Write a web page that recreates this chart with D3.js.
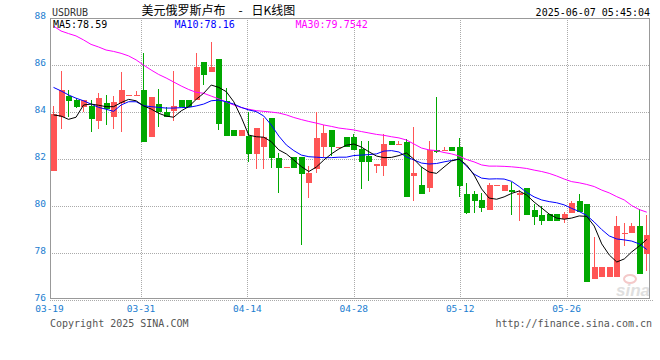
<!DOCTYPE html>
<html lang="zh">
<head>
<meta charset="utf-8">
<title>USDRUB 日K线图</title>
<style>
  html, body { margin: 0; padding: 0; background: #fff; }
  svg { display: block; }
  .mono { font-family: "DejaVu Sans Mono", "Liberation Mono", monospace; }
</style>
</head>
<body>
<svg width="660" height="360"></svg>
<script src="https://cdn.jsdelivr.net/npm/d3@7"></script>
<script>
// daily candles 2025-03-19 .. 2025-06-06 (every calendar day)
const open  = [81.51,83.79,84.71,84.52,84.21,84.27,83.64,84.38,83.81,84.41,
               84.74,84.74,84.95,82.96,84.35,84.03,84.07,84.52,84.52,84.52,
               86.14,85.71,86.27,84.49,83.25,82.99,82.99,82.23,82.54,83.77,
               82.07,81.66,82.08,82.08,81.00,81.59,82.51,83.25,82.54,82.94,
               82.94,82.44,82.14,81.73,81.73,82.78,82.65,82.75,81.30,80.91,
               80.77,82.40,82.40,82.54,82.54,80.52,80.52,80.27,79.84,80.91,
               80.66,80.69,80.48,80.78,79.84,79.63,79.67,79.67,79.45,79.70,
               80.23,80.10,76.89,77.00,77.00,77.00,78.88,78.88,79.16,77.97];
const high  = [84.27,85.76,84.95,84.60,84.52,84.52,84.81,84.74,84.71,85.73,
               84.74,84.91,86.54,84.66,84.99,84.21,85.77,84.52,84.52,86.54,
               86.14,86.99,86.27,85.02,83.25,83.25,84.03,83.34,83.74,83.77,
               82.26,81.66,82.08,82.08,81.71,84.03,83.46,83.25,82.54,82.94,
               83.08,82.78,82.78,81.79,83.08,82.78,82.78,82.85,83.39,81.66,
               82.78,84.66,82.54,82.54,82.89,81.00,80.66,80.55,81.00,80.91,
               80.91,81.02,80.69,80.78,80.10,80.03,79.67,79.67,79.77,80.24,
               80.52,80.10,78.68,77.40,77.40,79.59,79.28,79.28,79.87,79.63];
const low   = [81.51,83.29,83.79,84.20,84.03,83.17,83.28,83.46,83.29,83.17,
               84.74,84.74,82.75,82.96,83.36,83.79,83.64,84.24,84.24,84.52,
               85.16,85.71,83.25,82.99,82.99,82.99,81.88,81.59,81.59,81.64,
               80.58,81.66,81.64,78.37,80.37,81.40,82.11,82.13,82.54,82.51,
               82.40,80.74,81.09,81.40,81.30,82.61,82.65,80.38,80.24,80.51,
               80.62,82.28,82.40,82.37,80.38,79.67,79.73,79.77,79.84,80.91,
               80.66,79.63,79.39,79.63,79.20,79.20,79.37,79.37,79.28,79.70,
               79.77,76.79,76.89,77.00,77.00,77.00,78.31,78.88,77.12,77.26];
const close = [83.91,84.95,84.49,84.24,84.52,83.71,84.60,84.13,84.43,84.95,
               84.74,84.74,82.75,84.66,84.00,83.81,84.27,84.24,84.24,85.94,
               85.59,85.94,83.50,82.99,82.99,83.25,82.23,83.34,82.94,82.07,
               81.64,81.66,81.64,81.37,81.43,82.92,83.11,82.51,82.54,82.51,
               82.40,81.90,81.90,81.79,82.65,82.61,82.65,80.38,81.40,80.51,
               82.40,82.32,82.40,82.37,80.88,79.73,80.24,79.91,80.91,80.91,
               80.91,80.62,80.55,79.63,79.56,79.37,79.37,79.37,79.67,80.15,
               79.77,76.79,77.40,77.40,77.40,79.16,78.88,79.16,77.12,78.78];

// moving averages as drawn
const ma5  = [83.89,83.84,83.70,83.79,84.31,84.35,84.30,84.24,84.24,84.41,
              84.55,84.49,84.27,84.14,83.96,83.84,83.79,84.06,84.24,84.55,
              84.81,85.16,85.06,84.88,84.45,83.79,83.03,82.96,82.94,82.75,
              82.40,82.23,81.97,81.69,81.48,81.67,81.97,82.23,82.44,82.60,
              82.65,82.52,82.32,82.14,82.07,82.08,82.16,82.27,82.00,81.67,
              81.46,81.40,81.67,81.93,82.01,81.76,81.33,80.74,80.35,80.30,
              80.40,80.55,80.65,80.48,80.18,79.93,79.67,79.50,79.45,79.50,
              79.59,79.57,79.16,78.40,77.93,77.63,77.76,78.06,78.31,78.59];
const ma10 = [85.06,84.91,84.74,84.60,84.49,84.35,84.21,84.13,84.04,84.31,
              84.45,84.45,84.28,84.24,84.21,84.18,84.18,84.20,84.21,84.27,
              84.35,84.49,84.52,84.45,84.35,84.21,84.10,84.03,83.84,83.46,
              82.99,82.61,82.37,82.18,82.11,82.09,82.07,82.07,82.09,82.09,
              82.16,82.18,82.20,82.23,82.35,82.37,82.31,82.10,81.97,81.84,
              81.80,81.82,81.89,81.95,82.01,81.71,81.37,81.20,81.16,81.17,
              81.16,81.06,80.84,80.59,80.40,80.27,80.20,80.15,80.06,79.91,
              79.78,79.61,79.33,79.01,78.74,78.61,78.57,78.52,78.40,78.16];
const ma30 = [87.67,87.46,87.35,87.25,87.08,86.89,86.78,86.65,86.59,86.51,
              86.40,86.23,86.01,85.80,85.61,85.46,85.29,85.12,84.97,84.85,
              84.81,84.69,84.57,84.44,84.31,84.20,84.13,84.07,84.04,84.01,
              83.97,83.89,83.78,83.69,83.61,83.54,83.46,83.40,83.33,83.29,
              83.25,83.18,83.12,83.06,83.02,82.96,82.91,82.82,82.65,82.48,
              82.40,82.37,82.29,82.23,82.14,81.99,81.89,81.76,81.71,81.71,
              81.70,81.68,81.65,81.61,81.54,81.48,81.40,81.29,81.16,81.05,
              81.00,80.93,80.84,80.69,80.57,80.41,80.27,80.03,79.86,79.75];

const yTicks = [76, 78, 80, 82, 84, 86, 88];
const xTickLabels = ["03-19", "03-31", "04-14", "04-28", "05-12", "05-26"];
const maLegend = [["MA5:78.59", "#000"], ["MA10:78.16", "#00f"], ["MA30:79.7542", "#f0f"]];

const svg = d3.select("svg");
const plotL = 50, plotR = 649, plotT = 18, plotB = 298;
const red = "#ff5555", green = "#00a800";

const parse = d3.timeParse("%Y-%m-%d");
const days = d3.timeDay.range(parse("2025-03-19"), parse("2025-06-07"));

const y = d3.scaleLinear().domain([76, 88]).range([300.3, 18.3]);
const xDate = d3.scaleTime()
    .domain([parse("2025-03-19"), parse("2025-06-06")])
    .range([49.8, 650.2]);
const x = d3.scalePoint().domain(d3.range(days.length)).range([53, 646.3]);

const grid = svg.append("g")
    .attr("stroke", "#aaa")
    .attr("stroke-dasharray", "1,1")
    .attr("shape-rendering", "crispEdges");

// horizontal dotted grid
grid.selectAll(".h").data(yTicks.filter(v => v > 76 && v < 88)).join("line")
    .attr("x1", plotL).attr("x2", plotR)
    .attr("y1", d => Math.round(y(d)) + 0.5).attr("y2", d => Math.round(y(d)) + 0.5);
grid.append("line")
    .attr("x1", plotL).attr("x2", 653)
    .attr("y1", Math.round(y(76)) + 0.5).attr("y2", Math.round(y(76)) + 0.5);

// vertical dotted grid at date ticks
const tickDates = xTickLabels.map(s => parse("2025-" + s));
grid.selectAll(".v").data(tickDates.slice(1)).join("line")
    .attr("x1", d => Math.round(xDate(d)) + 0.5).attr("x2", d => Math.round(xDate(d)) + 0.5)
    .attr("y1", plotT).attr("y2", 300);

// watermark
const wm = svg.append("g").attr("opacity", 0.9);
wm.append("ellipse")
    .attr("cx", 630).attr("cy", 279).attr("rx", 6).attr("ry", 4)
    .attr("fill", "none").attr("stroke", "#f3c4c4").attr("stroke-width", 2);
wm.append("text")
    .attr("x", 616).attr("y", 296)
    .attr("font-family", "Arial, 'Liberation Sans', sans-serif")
    .attr("font-size", 17).attr("font-weight", "bold").attr("font-style", "italic")
    .attr("fill", "#dcdcdc")
    .text("sina");

// frame
svg.append("path")
    .attr("d", `M${plotL + 0.5},${plotB + 0.5}V${plotT + 0.5}H${plotR + 0.5}V${plotB + 0.5}Z`)
    .attr("fill", "none").attr("stroke", "#999")
    .attr("shape-rendering", "crispEdges");

// candles
const cx = i => Math.round(x(i));
const candles = svg.append("g").attr("shape-rendering", "crispEdges");
const idx = d3.range(days.length);
candles.selectAll("line").data(idx).join("line")
    .attr("x1", i => cx(i) + 0.5).attr("x2", i => cx(i) + 0.5)
    .attr("y1", i => y(high[i])).attr("y2", i => y(low[i]))
    .attr("stroke", i => close[i] >= open[i] ? red : green);
candles.selectAll("rect").data(idx).join("rect")
    .attr("x", i => cx(i) - 2)
    .attr("width", 6)
    .attr("y", i => y(Math.max(open[i], close[i])))
    .attr("height", i => Math.max(1, Math.abs(y(open[i]) - y(close[i]))))
    .attr("fill", i => close[i] >= open[i] ? red : green);

// moving averages
const line = d3.line().x((d, i) => x(i) + 0.5).y(d => y(d));
[[ma30, "#f0f"], [ma10, "#00f"], [ma5, "#000"]].forEach(([s, c]) => {
  svg.append("path").attr("d", line(s))
      .attr("fill", "none").attr("stroke", c).attr("stroke-width", 1);
});

// y labels
svg.append("g").attr("class", "mono")
    .selectAll("text").data(yTicks).join("text")
    .attr("x", 46).attr("y", d => y(d) + 1)
    .attr("text-anchor", "end")
    .attr("font-size", 9.5).attr("fill", "#1a7dd0")
    .text(d => d);

// x labels
svg.append("g").attr("class", "mono")
    .selectAll("text").data(xTickLabels).join("text")
    .attr("x", (d, i) => i === 0 ? 49.5 : xDate(tickDates[i]))
    .attr("y", 312)
    .attr("text-anchor", "middle")
    .attr("font-size", 9.5).attr("fill", "#1a7dd0")
    .text(d => d);

// header
svg.append("text").attr("class", "mono")
    .attr("x", 52).attr("y", 15.5)
    .attr("font-size", 10).attr("fill", "#333")
    .text("USDRUB");
const title = svg.append("text")
    .attr("y", 15)
    .attr("font-family", "'Noto Sans CJK SC', sans-serif")
    .attr("font-size", 12).attr("fill", "#000");
title.append("tspan").attr("x", 141.5).text("美元俄罗斯卢布");
title.append("tspan").attr("x", 238.5).text("-");
title.append("tspan").attr("x", 251.5).text("日K线图");
svg.append("text").attr("class", "mono")
    .attr("x", 650).attr("y", 15.5)
    .attr("text-anchor", "end")
    .attr("font-size", 10).attr("fill", "#000")
    .text("2025-06-07 05:45:04");

// MA legend
const legX = [53, 174.5, 295.5];
svg.append("g").attr("class", "mono")
    .selectAll("text").data(maLegend).join("text")
    .attr("x", (d, i) => legX[i]).attr("y", 27.5)
    .attr("font-size", 10)
    .attr("fill", d => d[1])
    .text(d => d[0]);

// footer
svg.append("text").attr("class", "mono")
    .attr("x", 50).attr("y", 326.5)
    .attr("font-size", 10).attr("fill", "#555")
    .text("Copyright 2025 SINA.COM");
svg.append("text").attr("class", "mono")
    .attr("x", 652).attr("y", 326.5)
    .attr("text-anchor", "end")
    .attr("font-size", 10).attr("fill", "#555")
    .text("http://finance.sina.com.cn");
</script>
</body>
</html>
